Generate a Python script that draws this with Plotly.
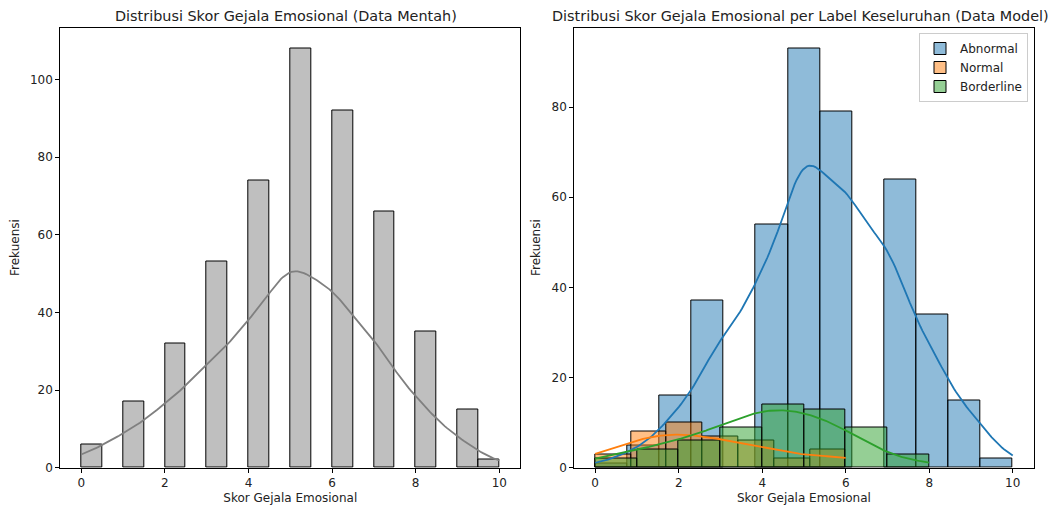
import numpy as np
import plotly.graph_objects as go
from plotly.subplots import make_subplots

# ---------------- data ----------------
raw_scores = list(range(11))
raw_counts = [6, 17, 32, 53, 74, 108, 92, 66, 35, 15, 2]

abnormal_scores = list(range(11))
abnormal_counts = [1, 5, 16, 37, 54, 93, 79, 64, 34, 15, 2]
normal_scores = list(range(7))
normal_counts = [3, 8, 10, 7, 6, 2, 4]
borderline_scores = list(range(9))
borderline_counts = [2, 4, 6, 9, 14, 13, 9, 2, 1]

labels = ["Abnormal", "Normal", "Borderline"]

raw_bins = 20
abnormal_bins = 13
normal_bins = 7
borderline_bins = 8

x_ticks = [0, 2, 4, 6, 8, 10]
y_ticks_left = [0, 20, 40, 60, 80, 100]
y_ticks_right = [0, 20, 40, 60, 80]

title_left = "Distribusi Skor Gejala Emosional (Data Mentah)"
title_right = "Distribusi Skor Gejala Emosional per Label Keseluruhan (Data Model)"
x_label = "Skor Gejala Emosional"
y_label = "Frekuensi"


# ---------------- helpers ----------------
def hist(scores, counts, nbins):
    s = np.asarray(scores, float)
    c = np.asarray(counts, float)
    edges = np.linspace(s.min(), s.max(), nbins + 1)
    h, e = np.histogram(s, bins=edges, weights=c)
    centers = (e[:-1] + e[1:]) / 2
    widths = np.diff(e)
    keep = h > 0
    return centers[keep], h[keep], widths[keep]


def kde(scores, counts, binwidth, n=200):
    data = np.repeat(np.asarray(scores, float), counts)
    bw = data.std(ddof=1) * len(data) ** (-0.2)
    grid = np.linspace(data.min(), data.max(), n)
    dens = np.exp(-0.5 * ((grid[:, None] - data[None, :]) / bw) ** 2).sum(1)
    dens /= len(data) * bw * np.sqrt(2 * np.pi)
    return grid, dens * len(data) * binwidth


FONT = "DejaVu Sans"
FS = 12
fig = make_subplots(rows=1, cols=2)

# left panel
cx, h, w = hist(raw_scores, raw_counts, raw_bins)
fig.add_trace(go.Bar(x=cx, y=h, width=w, marker=dict(color="rgba(128,128,128,0.5)",
                     line=dict(color="black", width=1)), showlegend=False, hoverinfo="skip"), 1, 1)
gx, gy = kde(raw_scores, raw_counts, w[0])
fig.add_trace(go.Scatter(x=gx, y=gy, mode="lines", line=dict(color="#808080", width=1.8),
                         showlegend=False, hoverinfo="skip"), 1, 1)

# right panel
groups = [
    ("Abnormal", abnormal_scores, abnormal_counts, abnormal_bins, (31, 119, 180)),
    ("Normal", normal_scores, normal_counts, normal_bins, (255, 127, 14)),
    ("Borderline", borderline_scores, borderline_counts, borderline_bins, (44, 160, 44)),
]
lines = []
for name, sc, ct, nb, rgb in groups:
    cx, h, w = hist(sc, ct, nb)
    fig.add_trace(go.Bar(x=cx, y=h, width=w, name=name,
                         marker=dict(color="rgba(%d,%d,%d,0.5)" % rgb,
                                     line=dict(color="black", width=1)),
                         hoverinfo="skip"), 1, 2)
    gx, gy = kde(sc, ct, w[0])
    lines.append((gx, gy, rgb))
for gx, gy, rgb in lines:
    fig.add_trace(go.Scatter(x=gx, y=gy, mode="lines", line=dict(color="rgb(%d,%d,%d)" % rgb, width=1.8),
                             showlegend=False, hoverinfo="skip"), 1, 2)

# page has an 8px body margin: work in page pixels and convert
OFF = 8
W, H = 1062 - OFF, 506 - OFF


def px(x):
    return (x - OFF) / W


def py(y):
    return (H - (y - OFF)) / H


left_dom = [px(60.3), px(520.2)]
right_dom = [px(574.3), px(1033.6)]
y_dom = [py(467.7), py(27.5)]

axis_common = dict(showline=True, mirror=True, linecolor="black", linewidth=1,
                   ticks="outside", ticklen=4, tickwidth=1, tickcolor="black",
                   showgrid=False, zeroline=False, automargin=False,
                   tickfont=dict(family=FONT, size=FS, color="#222222"))

fig.update_xaxes(**axis_common)
fig.update_yaxes(**axis_common)
lab_font = dict(family=FONT, size=FS, color="#222222")
fig.update_layout(
    xaxis=dict(domain=left_dom, range=[-0.5, 10.5], tickvals=x_ticks,
               title=dict(text=x_label, font=lab_font, standoff=4)),
    xaxis2=dict(domain=right_dom, range=[-0.5, 10.5], tickvals=x_ticks,
                title=dict(text=x_label, font=lab_font, standoff=4)),
    yaxis=dict(domain=y_dom, range=[0, 113.4], tickvals=y_ticks_left,
               title=dict(text=y_label, font=lab_font, standoff=8)),
    yaxis2=dict(domain=y_dom, range=[0, 97.65], tickvals=y_ticks_right,
                title=dict(text=y_label, font=lab_font, standoff=8)),
    barmode="overlay",
    bargap=0,
    width=W, height=H,
    margin=dict(l=0, r=0, t=0, b=0, autoexpand=False),
    paper_bgcolor="white", plot_bgcolor="white",
    font=dict(family=FONT, size=FS, color="#222222"),
    legend=dict(x=px(1028), xanchor="right", y=py(33), yanchor="top",
                bgcolor="rgba(255,255,255,0.8)", bordercolor="#cccccc", borderwidth=1,
                font=dict(family=FONT, size=FS, color="#222222"), tracegroupgap=0),
    annotations=[
        dict(text=title_left, x=px(286), y=py(16), xref="paper", yref="paper",
             xanchor="center", showarrow=False, font=dict(family=FONT, size=14.4, color="#222222"), yanchor="middle"),
        dict(text=title_right, x=px(800.5), y=py(16), xref="paper", yref="paper",
             xanchor="center", showarrow=False, font=dict(family=FONT, size=14.4, color="#222222"), yanchor="middle"),
    ],
)

fig.write_html("out.html")
